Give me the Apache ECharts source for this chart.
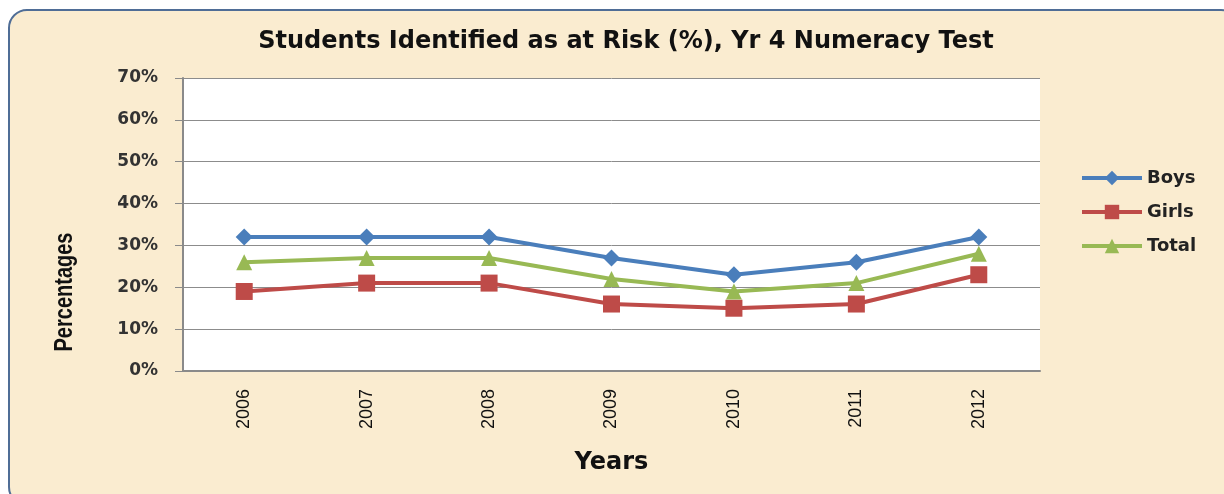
<!DOCTYPE html>
<html>
<head>
<meta charset="utf-8">
<title>Students Identified as at Risk</title>
<script src="https://cdn.jsdelivr.net/npm/echarts@6/dist/echarts.min.js"></script>
<style>
  html, body { margin: 0; padding: 0; background: #ffffff; }
  #chart { width: 1224px; height: 494px; }
</style>
</head>
<body>
<div id="chart"></div>
<script>
// chart data
const years = ['2006', '2007', '2008', '2009', '2010', '2011', '2012'];
const boys = [32, 32, 32, 27, 23, 26, 32];
const girls = [19, 21, 21, 16, 15, 16, 23];
const total = [26, 27, 27, 22, 19, 21, 28];
const yTicks = [0, 10, 20, 30, 40, 50, 60, 70];

const chart = echarts.init(document.getElementById('chart'), null, { renderer: 'canvas' });

const lineSeries = {
	type: 'line',
	symbolSize: 16,
	lineStyle: { width: 4 },
	emphasis: { disabled: true },
	animation: false
};

chart.setOption({
	backgroundColor: '#ffffff',
	graphic: [
		{
			type: 'rect',
			z: -10,
			shape: { x: 9, y: 10, width: 1230, height: 495, r: 18 },
			style: { fill: '#faecd0', stroke: '#4f6d96', lineWidth: 2 }
		},
		{
			// y axis title, stretched a bit like the original
			type: 'text',
			x: 65,
			y: 292,
			rotation: Math.PI / 2,
			scaleY: 1.25,
			style: {
				text: 'Percentages',
				font: 'bold 20px "Liberation Sans", Arial, sans-serif',
				fill: '#111',
				align: 'center',
				verticalAlign: 'middle'
			}
		}
	],
	title: {
		text: 'Students Identified as at Risk (%), Yr 4 Numeracy Test',
		left: 621,
		textAlign: 'center',
		top: 25,
		textStyle: {
			fontFamily: '"DejaVu Sans", sans-serif',
			fontWeight: 'bold',
			fontSize: 24,
			color: '#111'
		}
	},
	legend: {
		orient: 'vertical',
		left: 1080,
		top: 169,
		padding: 0,
		itemWidth: 60,
		itemHeight: 18,
		itemGap: 16,
		lineStyle: { width: 4 },
		textStyle: {
			fontFamily: '"DejaVu Sans", Verdana, sans-serif',
			fontWeight: 'bold',
			fontSize: 18,
			color: '#222'
		},
		data: ['Boys', 'Girls', 'Total']
	},
	grid: {
		left: 183,
		top: 78,
		width: 857,
		height: 293,
		show: true,
		backgroundColor: '#ffffff',
		borderWidth: 0
	},
	xAxis: {
		type: 'category',
		data: years,
		boundaryGap: true,
		name: 'Years',
		nameLocation: 'middle',
		nameGap: 80,
		nameTextStyle: {
			fontFamily: '"DejaVu Sans", sans-serif',
			fontWeight: 'bold',
			fontSize: 24,
			color: '#111',
			verticalAlign: 'top'
		},
		axisLine: { lineStyle: { color: '#8a8a8a', width: 2 } },
		axisTick: { show: false },
		axisLabel: {
			rotate: 90,
			margin: 18,
			fontFamily: '"Liberation Sans", Arial, sans-serif',
			fontSize: 18,
			color: '#111'
		}
	},
	yAxis: {
		type: 'value',
		min: yTicks[0],
		max: yTicks[yTicks.length - 1],
		interval: 10,
		axisLine: { show: true, lineStyle: { color: '#8a8a8a', width: 2 } },
		axisTick: { show: true, length: 8, lineStyle: { color: '#8a8a8a' } },
		splitLine: { lineStyle: { color: '#8c8c8c', width: 1 } },
		axisLabel: {
			margin: 25,
			fontFamily: '"DejaVu Sans", Verdana, sans-serif',
			fontWeight: 'bold',
			fontSize: 17,
			color: '#333',
			formatter: '{value}%'
		}
	},
	series: [
		{ ...lineSeries, name: 'Boys', data: boys, symbol: 'diamond', symbolSize: 17, color: '#4a7ebb' },
		{ ...lineSeries, name: 'Girls', data: girls, symbol: 'rect', symbolSize: 17, color: '#be4b48' },
		{ ...lineSeries, name: 'Total', data: total, symbol: 'triangle', symbolSize: 16, color: '#98b954' }
	]
});

window.addEventListener('resize', () => chart.resize());
</script>
</body>
</html>
